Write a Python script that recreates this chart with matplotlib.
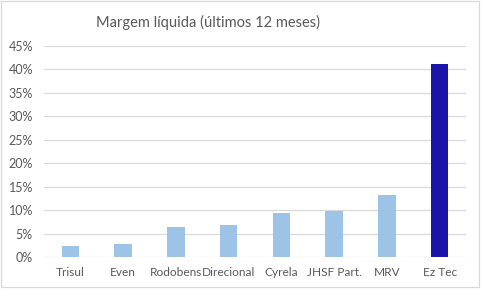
import matplotlib.pyplot as plt
from matplotlib.patches import Rectangle

# Margem liquida (ultimos 12 meses), em %
empresas = ["Trisul", "Even", "Rodobens", "Direcional", "Cyrela", "JHSF Part.", "MRV", "Ez Tec"]
margem = [2.35, 2.8, 6.4, 6.8, 9.45, 9.8, 13.3, 41.2]
cores = ["#9DC3E6"] * 7 + ["#1A14A8"]

plt.rcParams["font.family"] = ["Lato", "DejaVu Sans"]
cinza = "#595959"

fig = plt.figure(figsize=(4.83, 3.0), dpi=100)
ax = fig.add_axes([44 / 483, 1 - 257 / 300, 422 / 483, 211 / 300])

x = range(len(empresas))
ax.bar(x, margem, width=0.33, color=cores, zorder=3)
ax.set_xlim(-0.5, len(empresas) - 0.5)
ax.set_ylim(0, 45)
ax.set_yticks(range(0, 46, 5))
ax.set_yticklabels([f"{v}%" for v in range(0, 46, 5)])
ax.set_xticks(list(x))
ax.set_xticklabels(empresas)
ax.grid(axis="y", color="#D9D9D9", linewidth=0.9, zorder=0)
for s in ax.spines.values():
    s.set_visible(False)
ax.tick_params(length=0, colors=cinza, labelsize=9)
ax.tick_params(axis="x", pad=7, labelsize=8.6)
ax.tick_params(axis="y", pad=8)

fig.text(208 / 483, 1 - 22 / 300, "Margem líquida (últimos 12 meses)", ha="center", va="center",
         fontsize=10.5, color=cinza)

# moldura do grafico
fig.patches.append(Rectangle((1 / 483, 1 - 287 / 300), 478 / 483, 286 / 300, transform=fig.transFigure,
                             fill=False, edgecolor="#D9D9D9", linewidth=0.9))

fig.savefig("out.png", dpi=100)
